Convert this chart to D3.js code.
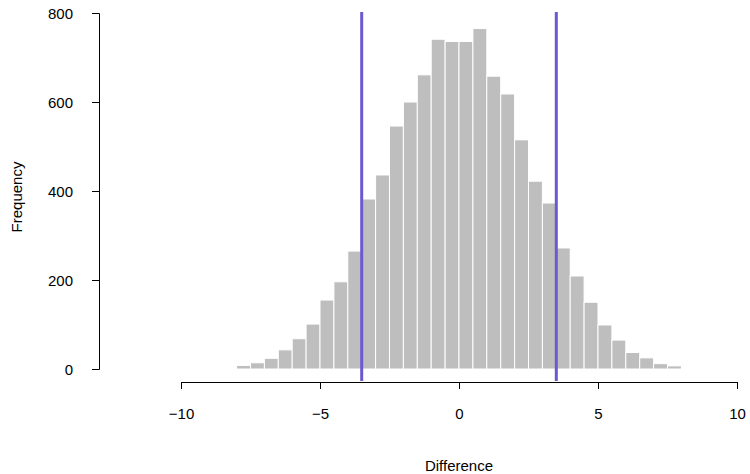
<!DOCTYPE html><html><head><script src="https://cdn.jsdelivr.net/npm/d3@7"></script>
<style>body{margin:0;background:#fff}svg{font-family:"Liberation Sans",Arial,sans-serif}</style></head><body>
<svg width="750" height="474"></svg>
<script>
const binStarts=[-8.5,-8,-7.5,-7,-6.5,-6,-5.5,-5,-4.5,-4,-3.5,-3,-2.5,-2,-1.5,-1,-0.5,0,0.5,1,1.5,2,2.5,3,3.5,4,4.5,5,5.5,6,6.5,7,7.5,8];
const counts=[2,8,14,24,43,68,101,155,196,265,382,436,546,600,661,741,736,736,765,658,618,515,422,373,272,209,150,99,65,37,25,12,7,2];
const binWidth=0.5;
const vlines=[-3.5,3.5];
const xTicks=[-10,-5,0,5,10], yTicks=[0,200,400,600,800];
const svg=d3.select("svg");
const x=d3.scaleLinear().domain([-10,10]).range([181,737]);
const y=d3.scaleLinear().domain([0,800]).range([369,13]);
const g=svg.append("g");
g.selectAll("rect").data(binStarts).join("rect")
 .attr("x",(d)=>x(d)).attr("width",x(binWidth)-x(0))
 .attr("y",(d,i)=>y(counts[i])).attr("height",(d,i)=>y(0)-y(counts[i]))
 .attr("fill","#BEBEBE").attr("stroke","#fff").attr("stroke-width",1);
svg.selectAll(".vl").data(vlines).join("line").attr("x1",d=>x(d)).attr("x2",d=>x(d))
 .attr("y1",12).attr("y2",381).attr("stroke","#6A5ACD").attr("stroke-width",3);
const xa=svg.append("g").attr("transform","translate(0,382)").call(d3.axisBottom(x).tickValues(xTicks).tickSize(7).tickPadding(19).tickFormat(d=>d<0?"\u2212"+(-d):d));
const ya=svg.append("g").attr("transform","translate(99,0)").call(d3.axisLeft(y).tickValues(yTicks).tickSize(7).tickPadding(19));
[xa,ya].forEach(a=>{a.select(".domain").attr("stroke","#000");a.selectAll("text").attr("font-size",15).attr("fill","#000").attr("font-family","Liberation Sans, Arial");});
ya.selectAll("text").attr("dy","0.35em");
svg.append("text").attr("x",459).attr("y",471).attr("text-anchor","middle").attr("font-size",15).text("Difference");
svg.append("text").attr("transform","translate(22,197) rotate(-90)").attr("text-anchor","middle").attr("font-size",15).text("Frequency");
</script></body></html>
